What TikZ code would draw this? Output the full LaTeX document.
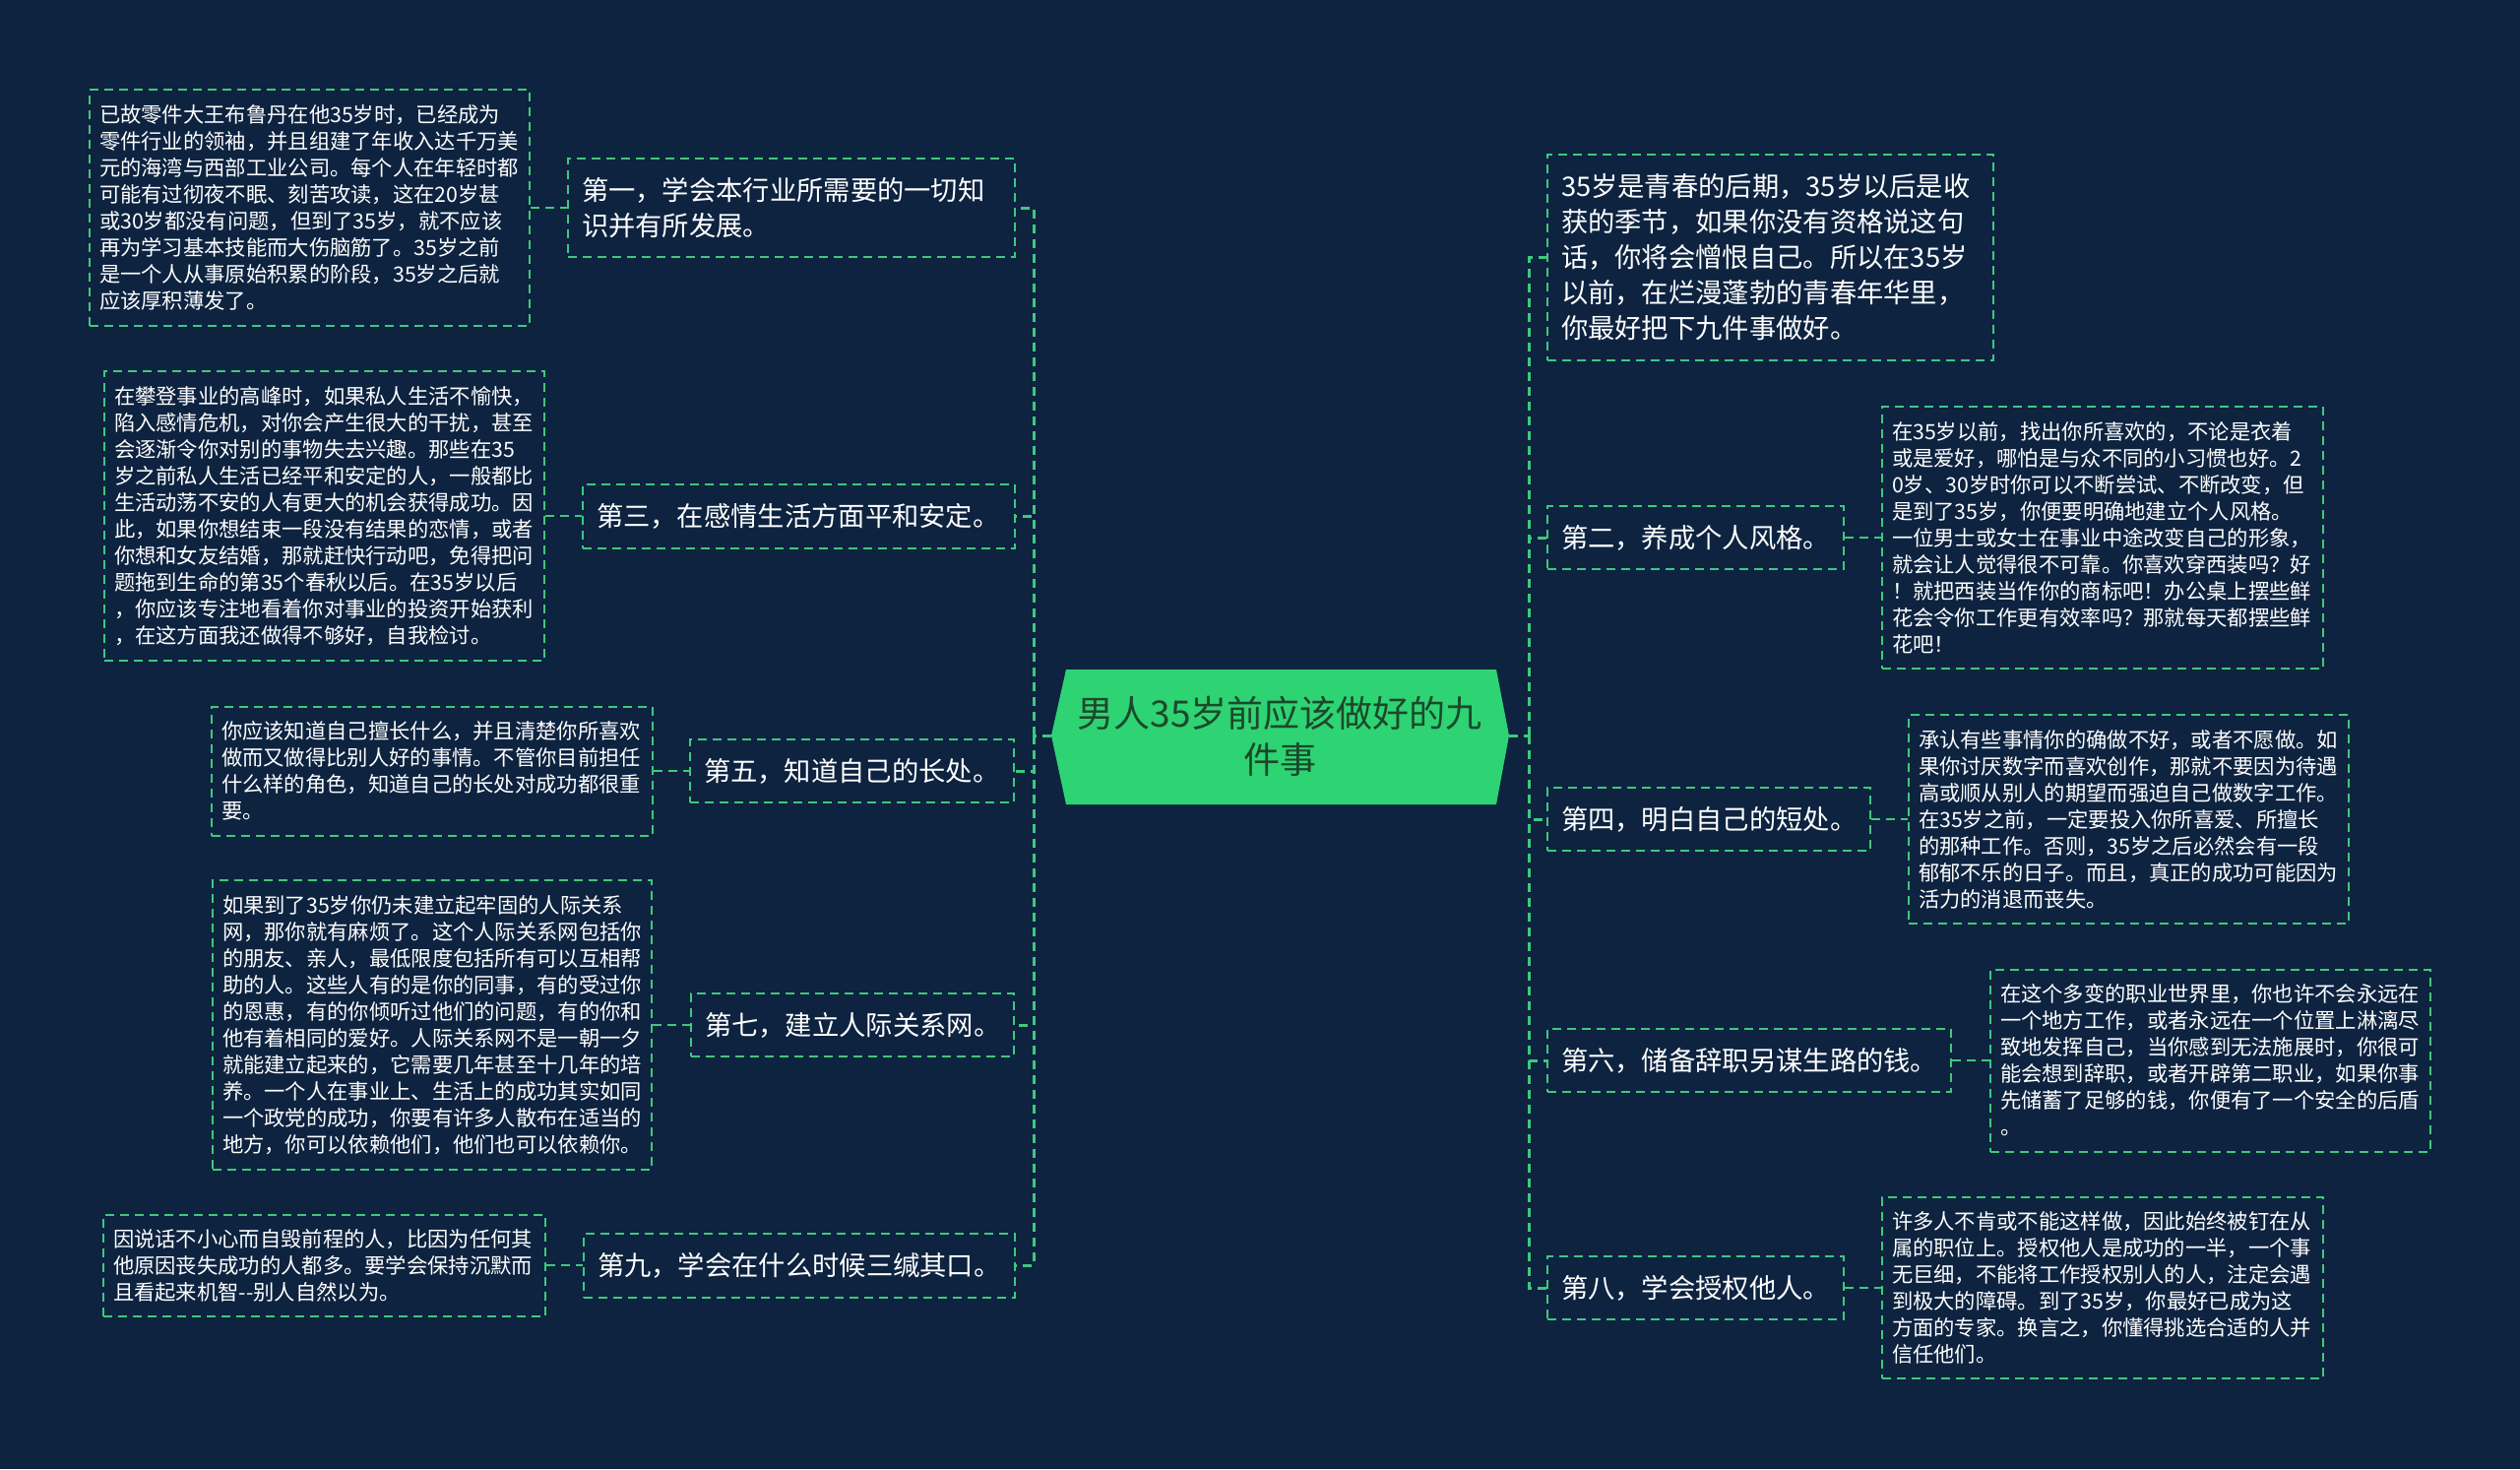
\documentclass[tikz,border=0pt]{standalone}
\usepackage{fontspec}
\setmainfont{Noto Sans CJK SC}
\definecolor{bg}{RGB}{13,35,64}
\definecolor{lk}{RGB}{62,201,122}
\definecolor{hubfill}{RGB}{46,211,115}
\definecolor{hubtext}{RGB}{28,72,42}
\tikzset{
  box/.style={draw=lk, line width=2pt, dash pattern=on 9pt off 6pt, text=white, align=left, anchor=center},
  detail/.style={box, inner xsep=10pt, inner ysep=0pt, font=\fontsize{21.3}{27}\selectfont},
  titlebox/.style={box, inner xsep=14pt, inner ysep=0pt, font=\fontsize{27.3}{36}\selectfont},
  trunk/.style={draw=lk, line width=3pt, dash pattern=on 9pt off 6pt},
  link/.style={draw=lk, line width=2pt, dash pattern=on 9pt off 6pt},
}
\begin{document}
\begin{tikzpicture}[x=1pt, y=-1pt]
\fill[bg] (0,0) rectangle (2560,1492);
\useasboundingbox (0,0) rectangle (2560,1492);

% hub
\fill[hubfill] (1068,747) -- (1083,680) -- (1520,680) -- (1533,747) -- (1520,817) -- (1083,817) -- cycle;
\node[font=\fontsize{37}{47}\selectfont, text=hubtext, align=center] (hub) at (1300,748) {男人35岁前应该做好的九\\件事};
\coordinate (hl) at (1068,747);
\coordinate (hr) at (1533,747);
\coordinate (lt) at (1050,747);
\coordinate (rt) at (1553,747);

% left titles
\node[titlebox, text width=426pt, minimum height=100pt] (t1) at (804,211) {第一，学会本行业所需要的一切知\\识并有所发展。};
\node[titlebox, text width=411pt, minimum height=65pt] (t3) at (811.5,524) {第三，在感情生活方面平和安定。};
\node[titlebox, text width=301pt, minimum height=64pt] (t5) at (865.5,783) {第五，知道自己的长处。};
\node[titlebox, text width=300pt, minimum height=64pt] (t7) at (866,1041) {第七，建立人际关系网。};
\node[titlebox, text width=410pt, minimum height=65pt] (t9) at (812,1285) {第九，学会在什么时候三缄其口。};

% left details
\node[detail, text width=427pt, minimum height=240pt] (d1) at (314.5,211) {已故零件大王布鲁丹在他35岁时，已经成为\\零件行业的领袖，并且组建了年收入达千万美\\元的海湾与西部工业公司。每个人在年轻时都\\可能有过彻夜不眠、刻苦攻读，这在20岁甚\\或30岁都没有问题，但到了35岁，就不应该\\再为学习基本技能而大伤脑筋了。35岁之前\\是一个人从事原始积累的阶段，35岁之后就\\应该厚积薄发了。};
\node[detail, text width=427pt, minimum height=294pt] (d3) at (329.5,524) {在攀登事业的高峰时，如果私人生活不愉快，\\陷入感情危机，对你会产生很大的干扰，甚至\\会逐渐令你对别的事物失去兴趣。那些在35\\岁之前私人生活已经平和安定的人，一般都比\\生活动荡不安的人有更大的机会获得成功。因\\此，如果你想结束一段没有结果的恋情，或者\\你想和女友结婚，那就赶快行动吧，免得把问\\题拖到生命的第35个春秋以后。在35岁以后\\，你应该专注地看着你对事业的投资开始获利\\，在这方面我还做得不够好，自我检讨。};
\node[detail, text width=428pt, minimum height=131pt] (d5) at (439,783) {你应该知道自己擅长什么，并且清楚你所喜欢\\做而又做得比别人好的事情。不管你目前担任\\什么样的角色，知道自己的长处对成功都很重\\要。};
\node[detail, text width=426pt, minimum height=294pt] (d7) at (439,1041) {如果到了35岁你仍未建立起牢固的人际关系\\网，那你就有麻烦了。这个人际关系网包括你\\的朋友、亲人，最低限度包括所有可以互相帮\\助的人。这些人有的是你的同事，有的受过你\\的恩惠，有的你倾听过他们的问题，有的你和\\他有着相同的爱好。人际关系网不是一朝一夕\\就能建立起来的，它需要几年甚至十几年的培\\养。一个人在事业上、生活上的成功其实如同\\一个政党的成功，你要有许多人散布在适当的\\地方，你可以依赖他们，他们也可以依赖你。};
\node[detail, text width=429pt, minimum height=103pt] (d9) at (329.5,1285) {因说话不小心而自毁前程的人，比因为任何其\\他原因丧失成功的人都多。要学会保持沉默而\\且看起来机智-{}-别人自然以为。};

% right titles
\node[titlebox, text width=425pt, minimum height=209pt] (intro) at (1798.5,261.5) {35岁是青春的后期，35岁以后是收\\获的季节，如果你没有资格说这句\\话，你将会憎恨自己。所以在35岁\\以前，在烂漫蓬勃的青春年华里，\\你最好把下九件事做好。};
\node[titlebox, text width=273pt, minimum height=64pt] (t2) at (1722.5,546) {第二，养成个人风格。};
\node[titlebox, text width=300pt, minimum height=64pt] (t4) at (1736,832) {第四，明白自己的短处。};
\node[titlebox, text width=382pt, minimum height=64pt] (t6) at (1777,1077) {第六，储备辞职另谋生路的钱。};
\node[titlebox, text width=273pt, minimum height=64pt] (t8) at (1722.5,1308) {第八，学会授权他人。};

% right details
\node[detail, text width=428pt, minimum height=266pt] (d2) at (2136,546) {在35岁以前，找出你所喜欢的，不论是衣着\\或是爱好，哪怕是与众不同的小习惯也好。2\\0岁、30岁时你可以不断尝试、不断改变，但\\是到了35岁，你便要明确地建立个人风格。\\一位男士或女士在事业中途改变自己的形象，\\就会让人觉得很不可靠。你喜欢穿西装吗？好\\！就把西装当作你的商标吧！办公桌上摆些鲜\\花会令你工作更有效率吗？那就每天都摆些鲜\\花吧！};
\node[detail, text width=427pt, minimum height=212pt] (d4) at (2162.5,832) {承认有些事情你的确做不好，或者不愿做。如\\果你讨厌数字而喜欢创作，那就不要因为待遇\\高或顺从别人的期望而强迫自己做数字工作。\\在35岁之前，一定要投入你所喜爱、所擅长\\的那种工作。否则，35岁之后必然会有一段\\郁郁不乐的日子。而且，真正的成功可能因为\\活力的消退而丧失。};
\node[detail, text width=427pt, minimum height=185pt] (d6) at (2245.5,1077) {在这个多变的职业世界里，你也许不会永远在\\一个地方工作，或者永远在一个位置上淋漓尽\\致地发挥自己，当你感到无法施展时，你很可\\能会想到辞职，或者开辟第二职业，如果你事\\先储蓄了足够的钱，你便有了一个安全的后盾\\。};
\node[detail, text width=428pt, minimum height=184pt] (d8) at (2136,1308) {许多人不肯或不能这样做，因此始终被钉在从\\属的职位上。授权他人是成功的一半，一个事\\无巨细，不能将工作授权别人的人，注定会遇\\到极大的障碍。到了35岁，你最好已成为这\\方面的专家。换言之，你懂得挑选合适的人并\\信任他们。};

% trunks
\draw[trunk] (hl) -- (lt);
\foreach \t in {t1,t3,t5,t7,t9} \draw[trunk] (lt) |- (\t.east);
\draw[trunk] (hr) -- (rt);
\foreach \t in {intro,t2,t4,t6,t8} \draw[trunk] (rt) |- (\t.west);

% detail links
\draw[link] (d1.east) -- (t1.west);
\draw[link] (d3.east) -- (t3.west);
\draw[link] (d5.east) -- (t5.west);
\draw[link] (d7.east) -- (t7.west);
\draw[link] (d9.east) -- (t9.west);
\draw[link] (t2.east) -- (d2.west);
\draw[link] (t4.east) -- (d4.west);
\draw[link] (t6.east) -- (d6.west);
\draw[link] (t8.east) -- (d8.west);
\end{tikzpicture}
\end{document}
